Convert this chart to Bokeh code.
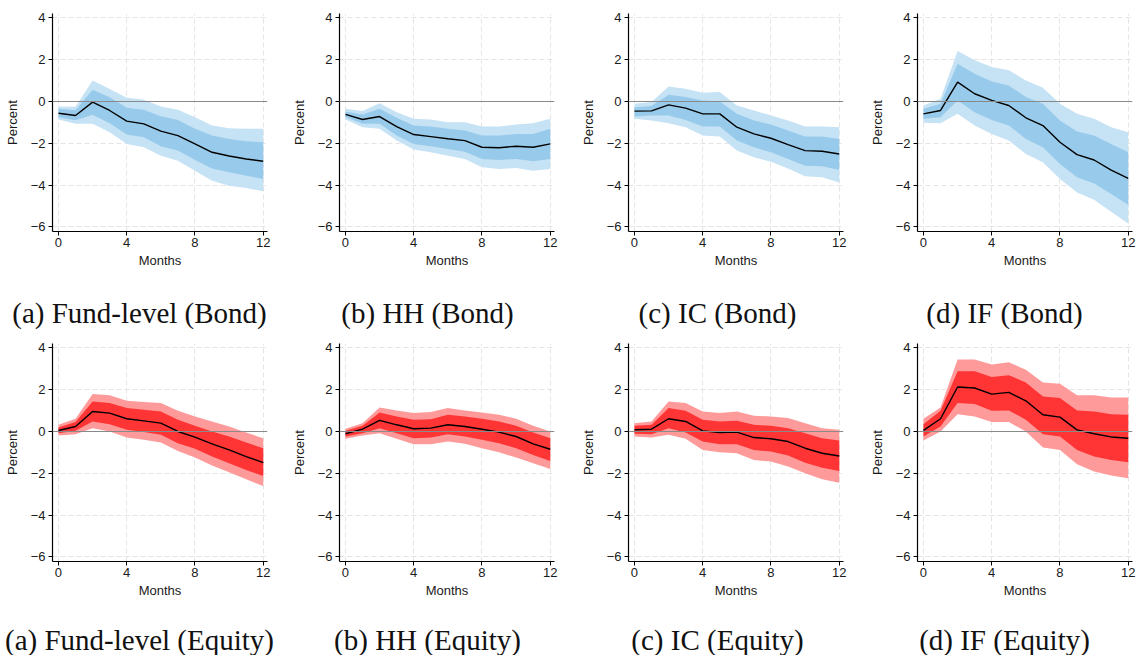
from bokeh.plotting import figure
from bokeh.layouts import column, row
from bokeh.models import Range1d, FixedTicker, Span
from bokeh.core.properties import value
from bokeh.embed import file_html
from bokeh.resources import INLINE

months = list(range(13))
x_ticks = [0, 4, 8, 12]
y_ticks = [-6, -4, -2, 0, 2, 4]

# ---- Bond panels ----
fund_bond_irf = [-0.56, -0.67, -0.03, -0.43, -0.94, -1.07, -1.42, -1.63, -2.03, -2.43, -2.61, -2.75, -2.86]
fund_bond_in_hi = [-0.35, -0.42, 0.56, 0.20, -0.30, -0.40, -0.70, -0.88, -1.31, -1.63, -1.79, -1.90, -1.95]
fund_bond_in_lo = [-0.75, -0.90, -0.64, -1.04, -1.58, -1.71, -2.14, -2.35, -2.80, -3.20, -3.39, -3.55, -3.71]
fund_bond_out_hi = [-0.24, -0.25, 1.00, 0.60, 0.18, 0.08, -0.24, -0.40, -0.75, -1.15, -1.28, -1.31, -1.31]
fund_bond_out_lo = [-0.86, -1.07, -1.07, -1.47, -2.03, -2.19, -2.59, -2.83, -3.31, -3.79, -4.03, -4.14, -4.30]

hh_bond_irf = [-0.62, -0.86, -0.72, -1.20, -1.58, -1.68, -1.78, -1.87, -2.19, -2.21, -2.14, -2.19, -2.03]
hh_bond_in_hi = [-0.48, -0.62, -0.35, -0.78, -1.15, -1.20, -1.31, -1.39, -1.63, -1.63, -1.55, -1.55, -1.31]
hh_bond_in_lo = [-0.75, -1.07, -1.07, -1.63, -2.03, -2.14, -2.27, -2.40, -2.75, -2.80, -2.75, -2.86, -2.75]
hh_bond_out_hi = [-0.35, -0.46, -0.08, -0.51, -0.83, -0.86, -0.99, -0.99, -1.20, -1.20, -1.10, -1.04, -0.83]
hh_bond_out_lo = [-0.86, -1.23, -1.31, -1.87, -2.30, -2.43, -2.59, -2.75, -3.15, -3.23, -3.18, -3.31, -3.23]

ic_bond_irf = [-0.46, -0.45, -0.16, -0.32, -0.59, -0.59, -1.23, -1.55, -1.76, -2.06, -2.35, -2.38, -2.51]
ic_bond_in_hi = [-0.27, -0.22, 0.32, 0.21, 0.05, 0.00, -0.59, -0.91, -1.10, -1.39, -1.68, -1.68, -1.79]
ic_bond_in_lo = [-0.72, -0.67, -0.67, -0.88, -1.20, -1.20, -1.87, -2.19, -2.43, -2.75, -3.07, -3.10, -3.28]
ic_bond_out_hi = [-0.11, -0.03, 0.72, 0.61, 0.42, 0.45, -0.19, -0.43, -0.67, -0.91, -1.20, -1.20, -1.23]
ic_bond_out_lo = [-0.83, -0.91, -1.04, -1.23, -1.63, -1.68, -2.35, -2.67, -2.88, -3.20, -3.58, -3.63, -3.87]

if_bond_irf = [-0.59, -0.43, 0.93, 0.37, 0.05, -0.19, -0.78, -1.15, -1.95, -2.54, -2.80, -3.28, -3.68]
if_bond_in_hi = [-0.35, -0.11, 1.81, 1.33, 0.96, 0.77, 0.21, -0.11, -0.91, -1.44, -1.63, -2.03, -2.43]
if_bond_in_lo = [-0.83, -0.75, 0.05, -0.51, -0.88, -1.15, -1.79, -2.19, -2.99, -3.63, -3.92, -4.43, -4.94]
if_bond_out_hi = [-0.19, 0.13, 2.42, 1.97, 1.65, 1.49, 1.01, 0.66, -0.11, -0.59, -0.83, -1.23, -1.47]
if_bond_out_lo = [-1.02, -1.04, -0.59, -1.15, -1.55, -1.87, -2.51, -2.91, -3.71, -4.35, -4.70, -5.28, -5.84]

# ---- Equity panels ----
fund_eq_irf = [0.05, 0.24, 0.96, 0.88, 0.61, 0.51, 0.40, 0.00, -0.27, -0.59, -0.88, -1.20, -1.49]
fund_eq_in_hi = [0.19, 0.45, 1.44, 1.36, 1.12, 1.04, 0.96, 0.56, 0.27, 0.00, -0.24, -0.53, -0.80]
fund_eq_in_lo = [-0.08, 0.03, 0.48, 0.35, 0.08, -0.03, -0.16, -0.56, -0.83, -1.20, -1.52, -1.84, -2.13]
fund_eq_out_hi = [0.32, 0.61, 1.79, 1.73, 1.47, 1.41, 1.36, 0.99, 0.72, 0.48, 0.24, -0.05, -0.32]
fund_eq_out_lo = [-0.19, -0.13, 0.16, 0.00, -0.29, -0.40, -0.53, -0.93, -1.25, -1.63, -1.95, -2.29, -2.61]

hh_eq_irf = [-0.11, 0.11, 0.53, 0.32, 0.13, 0.16, 0.32, 0.24, 0.11, -0.03, -0.24, -0.59, -0.85]
hh_eq_in_hi = [0.03, 0.27, 0.91, 0.72, 0.56, 0.59, 0.80, 0.72, 0.61, 0.48, 0.27, -0.05, -0.32]
hh_eq_in_lo = [-0.24, -0.08, 0.16, -0.08, -0.32, -0.29, -0.13, -0.24, -0.40, -0.56, -0.80, -1.12, -1.41]
hh_eq_out_hi = [0.13, 0.40, 1.15, 1.01, 0.88, 0.93, 1.12, 1.01, 0.91, 0.80, 0.61, 0.27, 0.00]
hh_eq_out_lo = [-0.35, -0.19, -0.08, -0.35, -0.61, -0.61, -0.48, -0.59, -0.80, -0.99, -1.25, -1.52, -1.79]

ic_eq_irf = [0.08, 0.11, 0.61, 0.48, 0.03, -0.05, -0.03, -0.29, -0.35, -0.48, -0.80, -1.04, -1.17]
ic_eq_in_hi = [0.27, 0.32, 1.12, 0.99, 0.56, 0.48, 0.51, 0.32, 0.27, 0.16, -0.08, -0.32, -0.43]
ic_eq_in_lo = [-0.11, -0.13, 0.16, -0.05, -0.48, -0.61, -0.61, -0.88, -0.96, -1.15, -1.49, -1.73, -1.89]
ic_eq_out_hi = [0.40, 0.48, 1.44, 1.36, 0.96, 0.88, 0.96, 0.75, 0.72, 0.64, 0.40, 0.16, 0.08]
ic_eq_out_lo = [-0.24, -0.29, -0.16, -0.35, -0.88, -0.99, -1.04, -1.36, -1.44, -1.68, -2.00, -2.29, -2.45]

if_eq_irf = [0.05, 0.61, 2.13, 2.08, 1.79, 1.87, 1.47, 0.80, 0.69, 0.08, -0.11, -0.26, -0.32]
if_eq_in_hi = [0.35, 0.99, 2.88, 2.88, 2.61, 2.69, 2.35, 1.68, 1.60, 1.01, 0.96, 0.83, 0.80]
if_eq_in_lo = [-0.24, 0.24, 1.36, 1.31, 0.99, 1.01, 0.56, -0.13, -0.24, -0.88, -1.20, -1.36, -1.47]
if_eq_out_hi = [0.61, 1.15, 3.44, 3.44, 3.20, 3.31, 2.96, 2.35, 2.29, 1.73, 1.73, 1.63, 1.63]
if_eq_out_lo = [-0.43, 0.00, 0.83, 0.72, 0.45, 0.45, 0.00, -0.77, -0.88, -1.57, -1.92, -2.11, -2.24]

captions_bond = ["(a) Fund-level (Bond)", "(b) HH (Bond)", "(c) IC (Bond)", "(d) IF (Bond)"]
captions_eq = ["(a) Fund-level (Equity)", "(b) HH (Equity)", "(c) IC (Equity)", "(d) IF (Equity)"]

BLUE_OUT, BLUE_IN = "#c6e2f5", "#98cbeb"
RED_OUT, RED_IN = "#ff9a9a", "#ff3434"

col_widths = [287, 289, 289, 271]
caption_centers = [139, 140, 141, 139]
plot_heights = [290, 275]
caption_heights = [45, 45]
caption_mid = [22, 29]
top_borders = [13, 8]
LEFT = 52
FRAME_W = 215
FRAME_H = 218


def panel(irf, in_lo, in_hi, out_lo, out_hi, colors, col, rowi):
    w = col_widths[col]
    h = plot_heights[rowi]
    p = figure(width=w, height=h, output_backend="svg", toolbar_location=None,
               x_range=Range1d(-0.35, 12.25), y_range=Range1d(-6.22, 4.21),
               min_border_left=LEFT, min_border_right=w - LEFT - FRAME_W,
               min_border_top=top_borders[rowi],
               min_border_bottom=h - top_borders[rowi] - FRAME_H,
               background_fill_color="white", border_fill_color="white")
    p.outline_line_color = None
    p.varea(x=months, y1=out_lo, y2=out_hi, fill_color=colors[0], fill_alpha=1.0)
    p.varea(x=months, y1=in_lo, y2=in_hi, fill_color=colors[1], fill_alpha=1.0)
    p.add_layout(Span(location=0, dimension="width", line_color="#8a8a8a", line_width=1.1))
    p.line(months, irf, line_color="black", line_width=1.4)

    for ax in (p.xaxis[0], p.yaxis[0]):
        ax.axis_line_color = "black"
        ax.axis_line_width = 1.2
        ax.major_tick_line_color = "black"
        ax.major_tick_out = 4
        ax.major_tick_in = 0
        ax.minor_tick_line_color = None
        ax.major_label_text_font = "Liberation Sans"
        ax.major_label_text_font_size = "13px"
        ax.major_label_text_color = "#1a1a1a"
        ax.axis_label_text_font = "Liberation Sans"
        ax.axis_label_text_font_size = "13px"
        ax.axis_label_text_font_style = "normal"
        ax.axis_label_text_color = "#1a1a1a"
    p.xaxis.ticker = FixedTicker(ticks=x_ticks)
    p.yaxis.ticker = FixedTicker(ticks=y_ticks)
    p.xaxis.axis_label = "Months"
    p.yaxis.axis_label = "Percent"
    p.xaxis.major_label_standoff = 2
    p.yaxis.major_label_standoff = 3
    p.xaxis.axis_label_standoff = 3
    p.yaxis.axis_label_standoff = 8
    p.yaxis.major_label_orientation = "horizontal"

    for g in (p.xgrid[0], p.ygrid[0]):
        g.grid_line_color = "#e4e4e4"
        g.grid_line_dash = "5 3"
        g.grid_line_width = 1
    return p


def caption_fig(text, col, rowi):
    w = col_widths[col]
    h = caption_heights[rowi]
    c = figure(width=w, height=h, output_backend="svg", toolbar_location=None,
               x_range=Range1d(0, w), y_range=Range1d(h, 0),
               x_axis_location=None, y_axis_location=None,
               min_border=0, min_border_left=0, min_border_right=0,
               min_border_top=0, min_border_bottom=0,
               background_fill_color="white", border_fill_color="white")
    c.outline_line_color = None
    c.xgrid.visible = False
    c.ygrid.visible = False
    c.text(x=[caption_centers[col]], y=[caption_mid[rowi]], text=[text],
           text_align="center", text_baseline="middle",
           text_font=value("Liberation Serif"), text_font_size="29px",
           text_color="#111111")
    return c


bond = [
    (fund_bond_irf, fund_bond_in_lo, fund_bond_in_hi, fund_bond_out_lo, fund_bond_out_hi),
    (hh_bond_irf, hh_bond_in_lo, hh_bond_in_hi, hh_bond_out_lo, hh_bond_out_hi),
    (ic_bond_irf, ic_bond_in_lo, ic_bond_in_hi, ic_bond_out_lo, ic_bond_out_hi),
    (if_bond_irf, if_bond_in_lo, if_bond_in_hi, if_bond_out_lo, if_bond_out_hi),
]
equity = [
    (fund_eq_irf, fund_eq_in_lo, fund_eq_in_hi, fund_eq_out_lo, fund_eq_out_hi),
    (hh_eq_irf, hh_eq_in_lo, hh_eq_in_hi, hh_eq_out_lo, hh_eq_out_hi),
    (ic_eq_irf, ic_eq_in_lo, ic_eq_in_hi, ic_eq_out_lo, ic_eq_out_hi),
    (if_eq_irf, if_eq_in_lo, if_eq_in_hi, if_eq_out_lo, if_eq_out_hi),
]

top = [panel(*bond[i], (BLUE_OUT, BLUE_IN), i, 0) for i in range(4)]
top_cap = [caption_fig(captions_bond[i], i, 0) for i in range(4)]
bottom = [panel(*equity[i], (RED_OUT, RED_IN), i, 1) for i in range(4)]
bottom_cap = [caption_fig(captions_eq[i], i, 1) for i in range(4)]

layout = column(row(*top, spacing=0), row(*top_cap, spacing=0),
                row(*bottom, spacing=0), row(*bottom_cap, spacing=0), spacing=0)

open("out.html", "w").write(file_html(layout, INLINE))
